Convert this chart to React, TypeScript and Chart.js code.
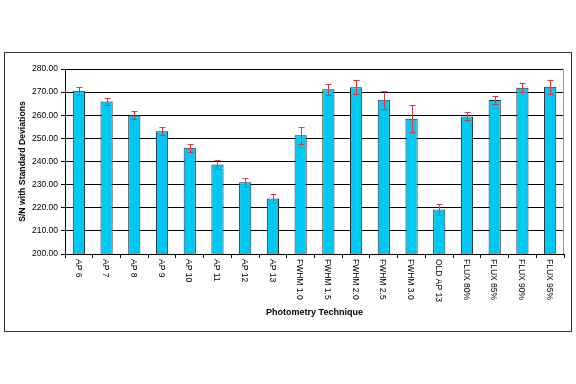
import React, { useEffect, useRef } from "react";
import { Chart, registerables } from "chart.js";

Chart.register(...registerables);

const categories = [
  "AP 6", "AP 7", "AP 8", "AP 9", "AP 10", "AP 11", "AP 12", "AP 13",
  "FWHM 1.0", "FWHM 1.5", "FWHM 2.0", "FWHM 2.5", "FWHM 3.0",
  "OLD AP 13", "FLUX 80%", "FLUX 85%", "FLUX 90%", "FLUX 95%",
];
const snValues = [
  270.6, 266.0, 260.1, 253.1, 245.9, 238.7, 231.0, 224.0,
  251.3, 271.2, 272.1, 266.7, 258.5,
  219.2, 259.5, 266.6, 271.9, 272.3,
];
const stdDevs = [
  1.8, 1.6, 1.7, 1.7, 1.8, 1.8, 2.0, 1.9,
  3.6, 2.4, 3.0, 4.0, 5.8,
  2.4, 1.7, 1.7, 2.0, 2.9,
];
const yMin = 200;
const yMax = 280;
const yStep = 10;
const yTitle = "S/N with Standard Deviations";
const xTitle = "Photometry Technique";

const FONT = "Arial, 'Liberation Sans', sans-serif";

const decorPlugin = {
  id: "decor",
  beforeDraw(chart: any) {
    const ctx = chart.ctx;
    ctx.save();
    ctx.fillStyle = "#ffffff";
    ctx.fillRect(0, 0, chart.width, chart.height);
    ctx.strokeStyle = "#333333";
    ctx.lineWidth = 1;
    ctx.strokeRect(4.5, 52.5, 567, 279);
    ctx.restore();
  },
  beforeDatasetsDraw(chart: any) {
    const { ctx, chartArea } = chart;
    ctx.save();
    ctx.strokeStyle = "#9a9a9a";
    ctx.lineWidth = 1;
    ctx.beginPath();
    ctx.moveTo(Math.round(chartArea.right) - 0.5, chartArea.top);
    ctx.lineTo(Math.round(chartArea.right) - 0.5, chartArea.bottom);
    ctx.stroke();
    ctx.restore();
  },
  afterDatasetsDraw(chart: any) {
    const ctx = chart.ctx;
    const yScale = chart.scales.y;
    const meta = chart.getDatasetMeta(0);
    ctx.save();
    ctx.strokeStyle = "#e8343c";
    ctx.lineWidth = 1;
    meta.data.forEach((bar: any, i: number) => {
      const v = snValues[i];
      const e = stdDevs[i];
      const x = Math.round(bar.x) + 0.5;
      const yt = Math.round(yScale.getPixelForValue(v + e)) + 0.5;
      const yb = Math.round(yScale.getPixelForValue(v - e)) + 0.5;
      ctx.beginPath();
      ctx.moveTo(x, yt);
      ctx.lineTo(x, yb);
      ctx.moveTo(x - 3, yt);
      ctx.lineTo(x + 3, yt);
      ctx.moveTo(x - 3, yb);
      ctx.lineTo(x + 3, yb);
      ctx.stroke();
    });
    ctx.restore();
  },
  afterDraw(chart: any) {
    const ctx = chart.ctx;
    const xScale = chart.scales.x;
    ctx.save();
    ctx.fillStyle = "#000000";
    ctx.font = `8.5px ${FONT}`;
    ctx.textAlign = "left";
    ctx.textBaseline = "middle";
    categories.forEach((label, i) => {
      const x = xScale.getPixelForValue(i);
      ctx.save();
      ctx.translate(x - 1, xScale.top + 5);
      ctx.rotate(Math.PI / 2);
      ctx.fillText(label, 0, 0);
      ctx.restore();
    });
    ctx.restore();
  },
};

export default function App() {
  const canvasRef = useRef<HTMLCanvasElement | null>(null);

  useEffect(() => {
    const canvas = canvasRef.current;
    if (!canvas) return;
    const chart = new Chart(canvas, {
      type: "bar",
      data: {
        labels: categories,
        datasets: [
          {
            data: snValues,
            backgroundColor: "#00c8f4",
            borderColor: "#1e2a30",
            borderWidth: 1,
            borderSkipped: "bottom",
            categoryPercentage: 1,
            barPercentage: 0.44,
          },
        ],
      },
      options: {
        responsive: false,
        animation: false,
        devicePixelRatio: 1,
        layout: { padding: { left: 0, top: 69, right: 12, bottom: 64 } },
        plugins: {
          legend: { display: false },
          tooltip: { enabled: false },
        },
        scales: {
          x: {
            offset: true,
            grid: {
              offset: true,
              drawOnChartArea: false,
              drawTicks: true,
              tickLength: 4,
              color: "#000000",
            },
            border: { color: "#000000", width: 1 },
            ticks: { display: false },
            title: {
              display: true,
              text: xTitle,
              color: "#000000",
              font: { family: FONT, size: 9, weight: "bold" },
              padding: { top: 0, bottom: 2 },
            },
            afterFit(scale: any) {
              scale.height = 66;
            },
          },
          y: {
            min: yMin,
            max: yMax,
            grid: {
              color: "#000000",
              lineWidth: 1,
              drawTicks: true,
              tickLength: 4,
            },
            border: { color: "#000000", width: 1 },
            ticks: {
              stepSize: yStep,
              color: "#000000",
              padding: 3,
              font: { family: FONT, size: 8.5 },
              callback: (v: any) => Number(v).toFixed(2),
            },
            title: {
              display: true,
              text: yTitle,
              color: "#000000",
              font: { family: FONT, size: 8.7, weight: "bold" },
              padding: { top: 17, bottom: 0 },
            },
            afterFit(scale: any) {
              scale.width = 65;
            },
          },
        },
      },
      plugins: [decorPlugin],
    });
    return () => chart.destroy();
  }, []);

  return (
    <div style={{ position: "absolute", left: 0, top: 0, width: 576, height: 384 }}>
      <canvas ref={canvasRef} width={576} height={384} />
    </div>
  );
}
